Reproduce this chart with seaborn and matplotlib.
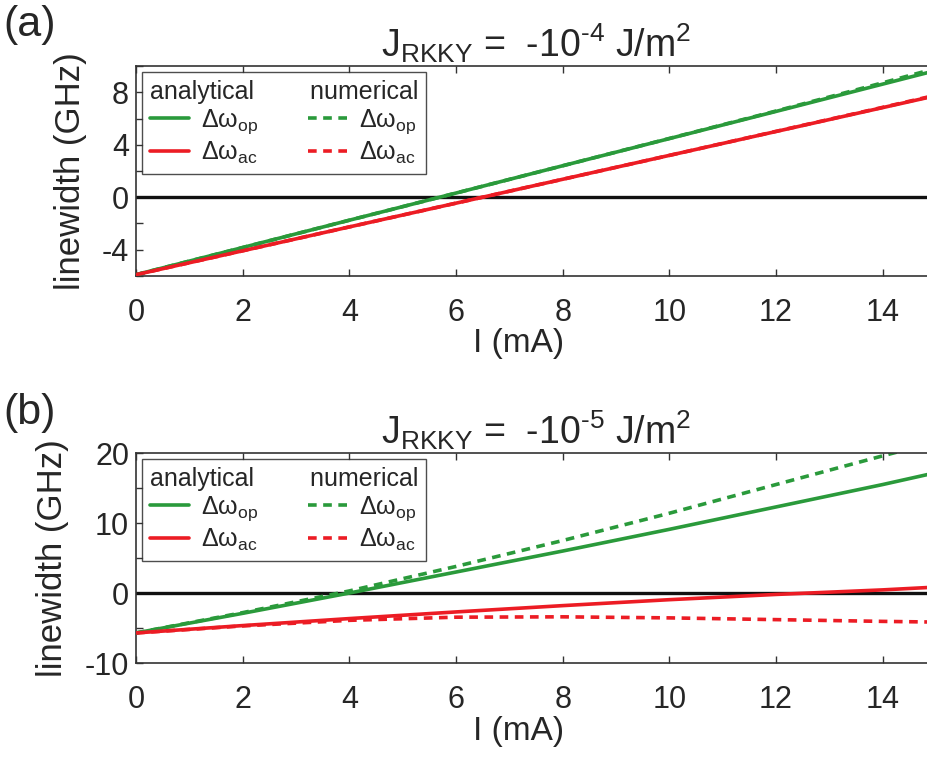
import numpy as np
import seaborn as sns
import matplotlib.pyplot as plt
from matplotlib.lines import Line2D
from matplotlib.ticker import MultipleLocator

# Style
sns.set_style("ticks")
plt.rcParams['font.family'] = ['Liberation Sans', 'DejaVu Sans']
plt.rcParams['mathtext.fontset'] = 'custom'
plt.rcParams['mathtext.rm'] = 'Liberation Sans'
plt.rcParams['mathtext.default'] = 'regular'
plt.rcParams['axes.unicode_minus'] = False

# Data
current = [0, 2, 4, 6, 8, 10, 12, 14, 15]

# panel (a): J_RKKY = -1e-4 J/m^2
op_analytical_a = [-5.9, -3.83, -1.75, 0.32, 2.4, 4.47, 6.54, 8.62, 9.66]
ac_analytical_a = [-5.9, -4.08, -2.26, -0.45, 1.37, 3.19, 5.01, 6.83, 7.74]
op_numerical_a = [-5.9, -3.83, -1.75, 0.32, 2.4, 4.48, 6.57, 8.72, 9.82]
ac_numerical_a = [-5.9, -4.08, -2.26, -0.45, 1.37, 3.19, 5.02, 6.85, 7.78]

# panel (b): J_RKKY = -1e-5 J/m^2
op_analytical_b = [-5.7, -2.9, 0.0, 3.0, 6.0, 9.1, 12.3, 15.5, 17.2]
ac_analytical_b = [-5.7, -4.65, -3.65, -2.7, -1.8, -0.95, -0.2, 0.45, 0.85]
op_numerical_b = [-5.7, -2.8, 0.3, 3.8, 7.5, 11.4, 15.5, 19.6, 21.6]
ac_numerical_b = [-5.7, -4.7, -3.9, -3.45, -3.4, -3.55, -3.8, -4.05, -4.15]

green = '#2a9a3b'
red = '#ec1c24'
lw = 2.6
dash = (0, (2.4, 1.8))
dpi = 100

fig = plt.figure(figsize=(9.28, 7.58), dpi=dpi)
ax_a = fig.add_axes([0.1466, 0.6359, 0.8620, 0.2770])
ax_b = fig.add_axes([0.1466, 0.1253, 0.8620, 0.2770])

panels = [
    (ax_a, op_analytical_a, ac_analytical_a, op_numerical_a, ac_numerical_a,
     (-6, 10), [-4, 0, 4, 8], 2, '\u20104', '(a)', 0.994),
    (ax_b, op_analytical_b, ac_analytical_b, op_numerical_b, ac_numerical_b,
     (-10, 20), [-10, 0, 10, 20], 5, '\u20105', '(b)', 0.482),
]

for ax, op_an, ac_an, op_nu, ac_nu, ylim, yticks, yminor, expo, tag, tag_y in panels:
    ax.axhline(0, color='#111111', lw=2.4, zorder=1)
    sns.lineplot(x=current, y=op_an, ax=ax, color=green, lw=lw, zorder=3)
    sns.lineplot(x=current, y=ac_an, ax=ax, color=red, lw=lw, zorder=3)
    sns.lineplot(x=current, y=op_nu, ax=ax, color=green, lw=lw, linestyle=dash, zorder=2)
    sns.lineplot(x=current, y=ac_nu, ax=ax, color=red, lw=lw, linestyle=dash, zorder=2)

    ax.set_xlim(0, 15)
    ax.set_ylim(*ylim)
    ax.set_xticks(range(0, 15, 2))
    ax.set_yticks(yticks)
    ax.yaxis.set_minor_locator(MultipleLocator(yminor))
    ax.tick_params(which='both', direction='in', top=True, right=True,
                   length=5, width=1, color='#333333', labelsize=22)
    ax.tick_params(axis='x', pad=16)
    ax.tick_params(axis='y', pad=5)
    for s in ax.spines.values():
        s.set_linewidth(1.2)
        s.set_color('#333333')

    ax.set_xlabel('I (mA)', fontsize=24)
    ax.xaxis.set_label_coords(0.478, -0.25, transform=ax.transAxes)
    ax.set_ylabel('linewidth (GHz)', fontsize=25, labelpad=11)
    ax.set_title('J$_{RKKY}$ =  -10$^{%s}$ J/m$^2$' % expo, fontsize=27, pad=7)

    handles = [
        Line2D([], [], color=green, lw=lw),
        Line2D([], [], color=red, lw=lw),
        Line2D([], [], color=green, lw=lw, linestyle=dash),
        Line2D([], [], color=red, lw=lw, linestyle=dash),
    ]
    labels = [r'$\Delta\omega_{op}$', r'$\Delta\omega_{ac}$',
              r'$\Delta\omega_{op}$', r'$\Delta\omega_{ac}$']
    leg = ax.legend(handles, labels, ncol=2, loc='upper left', fontsize=18,
                    title='analytical        numerical', title_fontsize=18,
                    alignment='left', handlelength=1.55, handletextpad=0.5,
                    columnspacing=2.0, labelspacing=0.15, borderpad=0.3,
                    borderaxespad=0.25, frameon=True, fancybox=False)
    leg.get_frame().set_edgecolor('#222222')
    leg.get_frame().set_linewidth(1.0)
    leg.set_zorder(5)

    fig.text(0.004, tag_y, tag, fontsize=31, va='top', ha='left')

fig.savefig('out.png', dpi=dpi)
